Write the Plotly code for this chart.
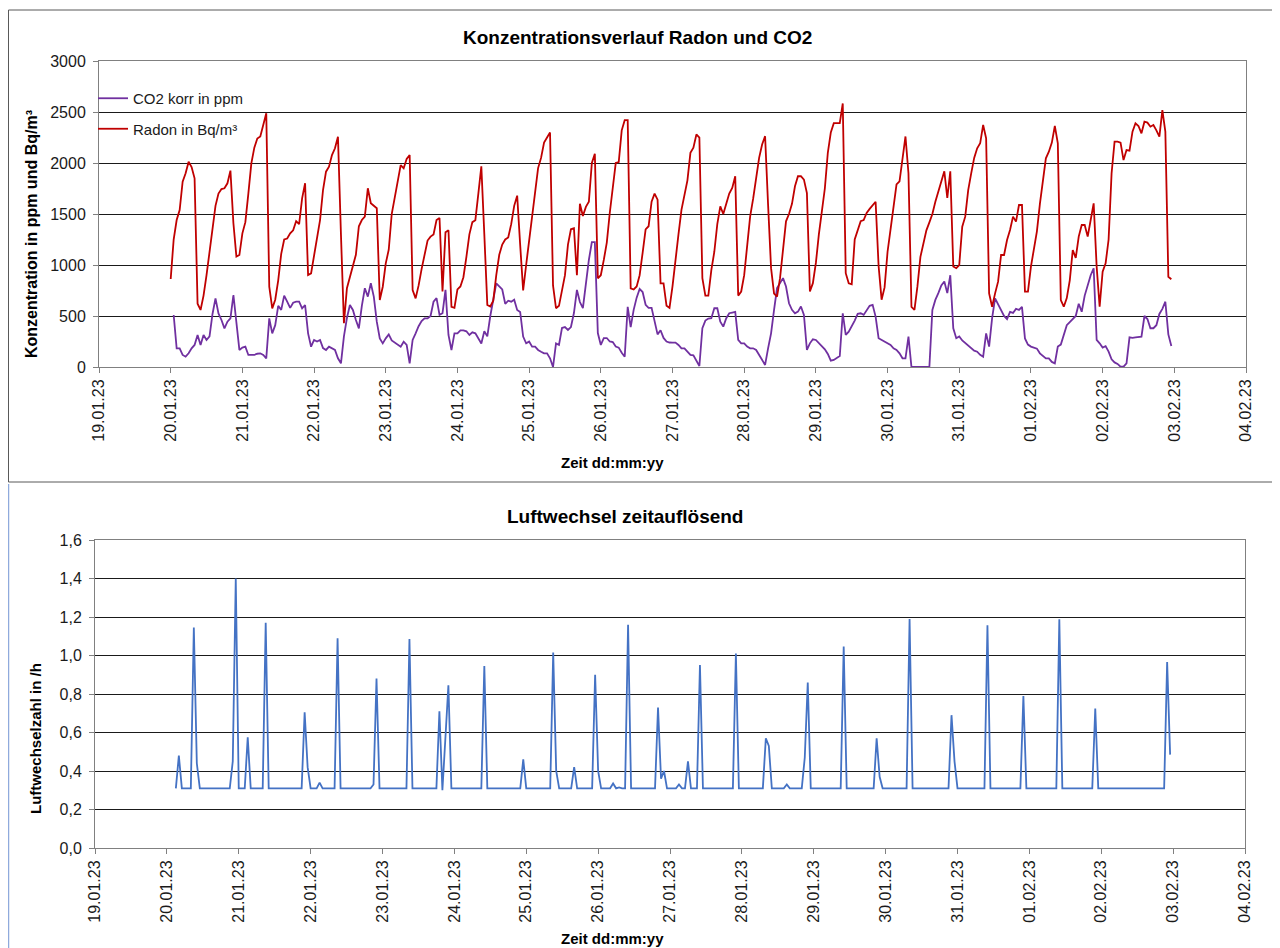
import pandas as pd
import plotly.graph_objects as go

# hourly values from 20.01.23 00:00 to 02.02.23 23:00, one row per day
radon = [
    863, 1250, 1441, 1539, 1817, 1900, 2013, 1960, 1850, 620, 559, 700, 900, 1114, 1350, 1580, 1700, 1745, 1752, 1801, 1925, 1409, 1082, 1098,
    1310, 1420, 1700, 1997, 2150, 2240, 2260, 2370, 2487, 787, 575, 660, 850, 1110, 1250, 1260, 1310, 1340, 1430, 1400, 1654, 1801, 902, 918,
    1100, 1250, 1440, 1735, 1915, 1964, 2078, 2144, 2258, 1300, 430, 772, 885, 1000, 1100, 1380, 1441, 1474, 1752, 1605, 1580, 1556, 657, 787,
    1016, 1150, 1500, 1660, 1780, 1980, 1948, 2040, 2078, 755, 673, 800, 960, 1120, 1240, 1278, 1300, 1440, 1460, 740, 1320, 1340, 590, 580,
    760, 790, 880, 1080, 1300, 1420, 1440, 1700, 1968, 1300, 609, 593, 650, 900, 1100, 1200, 1250, 1270, 1400, 1580, 1680, 1200, 750, 1000,
    1250, 1510, 1705, 1950, 2050, 2200, 2250, 2300, 800, 576, 600, 740, 900, 1200, 1350, 1360, 900, 1600, 1480, 1570, 1620, 2000, 2090, 870,
    900, 1050, 1220, 1510, 1770, 2000, 2010, 2320, 2420, 2420, 770, 760, 790, 900, 1120, 1350, 1380, 1620, 1700, 1640, 820, 820, 600, 580,
    790, 1080, 1300, 1540, 1680, 1830, 2100, 2150, 2280, 2250, 870, 700, 700, 950, 1130, 1400, 1575, 1500, 1600, 1700, 1755, 1870, 700, 740,
    900, 1215, 1477, 1650, 1850, 2050, 2181, 2263, 1592, 969, 720, 691, 871, 1133, 1428, 1500, 1600, 1772, 1870, 1870, 1837, 1706, 740, 822,
    1020, 1300, 1530, 1750, 2100, 2300, 2390, 2390, 2390, 2584, 920, 820, 810, 1250, 1350, 1430, 1440, 1510, 1550, 1590, 1620, 990, 660, 780,
    1130, 1350, 1560, 1790, 1820, 2050, 2260, 1900, 590, 560, 790, 1080, 1215, 1340, 1418, 1500, 1620, 1720, 1800, 1919, 1657, 1919, 986, 969,
    1000, 1376, 1474, 1735, 1898, 2050, 2144, 2193, 2373, 2242, 722, 591, 722, 837, 1098, 1098, 1245, 1343, 1474, 1425, 1588, 1588, 739, 739,
    984, 1180, 1330, 1600, 1850, 2046, 2111, 2200, 2363, 2193, 657, 591, 676, 850, 1147, 1069, 1278, 1392, 1392, 1278, 1441, 1605, 984, 591,
    935, 1016, 1250, 1900, 2209, 2209, 2199, 2029, 2127, 2121, 2307, 2389, 2363, 2291, 2405, 2396, 2356, 2372, 2320, 2258, 2519, 2307, 885, 860,
]

co2 = [
    None, 510, 183, 183, 118, 101, 134, 183, 216, 314, 216, 314, 265, 300, 520, 673, 526, 461, 379, 444, 477, 706, 461, 167,
    190, 200, 118, 118, 118, 130, 134, 118, 85, 477, 330, 410, 600, 560, 700, 640, 580, 630, 640, 640, 575, 608, 330, 199,
    265, 250, 265, 185, 167, 199, 185, 167, 85, 36, 300, 480, 608, 559, 461, 379, 600, 772, 690, 821, 690, 444, 281, 232,
    281, 320, 260, 240, 216, 199, 248, 216, 36, 265, 330, 400, 450, 477, 477, 500, 640, 675, 511, 527, 756, 314, 167, 330,
    330, 360, 360, 350, 314, 340, 330, 280, 230, 350, 300, 500, 650, 820, 790, 760, 620, 650, 640, 660, 560, 540, 298, 232,
    249, 200, 200, 167, 150, 134, 134, 85, 0, 232, 216, 382, 392, 363, 392, 529, 755, 637, 578, 824, 1049, 1225, 1225, 333,
    216, 284, 284, 250, 245, 200, 190, 140, 100, 590, 390, 560, 680, 765, 735, 610, 580, 580, 460, 320, 360, 285, 250, 240,
    239, 239, 216, 183, 183, 150, 118, 115, 69, 10, 380, 455, 475, 478, 576, 576, 445, 396, 478, 527, 534, 540, 265, 232,
    232, 200, 183, 183, 167, 118, 75, 20, 183, 330, 560, 773, 822, 871, 789, 625, 560, 527, 543, 593, 511, 167, 232, 272,
    265, 232, 206, 174, 128, 62, 69, 90, 108, 527, 314, 347, 396, 455, 521, 527, 511, 550, 600, 609, 494, 282, 265, 246,
    232, 216, 183, 167, 134, 85, 85, 298, 0, 0, 0, 0, 0, 0, 0, 560, 658, 724, 800, 838, 724, 900, 380, 282,
    300, 260, 235, 210, 185, 160, 150, 120, 101, 330, 200, 480, 673, 620, 560, 500, 470, 540, 530, 570, 560, 590, 280, 220,
    200, 190, 180, 134, 105, 85, 85, 50, 36, 200, 220, 320, 410, 440, 470, 500, 620, 542, 700, 800, 900, 968, 265, 232,
    190, 205, 150, 75, 45, 30, 3, 3, 36, 290, 285, 290, 297, 297, 500, 470, 380, 380, 410, 520, 570, 640, 320, 205,
]

luftwechsel = [
    None, None, None, 0.31, 0.48, 0.31, 0.31, 0.31, 0.31, 1.145, 0.44, 0.31, 0.31, 0.31, 0.31, 0.31, 0.31, 0.31, 0.31, 0.31, 0.31, 0.31, 0.45, 1.40,
    0.31, 0.31, 0.31, 0.575, 0.31, 0.31, 0.31, 0.31, 0.31, 1.17, 0.31, 0.31, 0.31, 0.31, 0.31, 0.31, 0.31, 0.31, 0.31, 0.31, 0.31, 0.31, 0.705, 0.42,
    0.31, 0.31, 0.31, 0.34, 0.31, 0.31, 0.31, 0.31, 0.31, 1.09, 0.31, 0.31, 0.31, 0.31, 0.31, 0.31, 0.31, 0.31, 0.31, 0.31, 0.31, 0.33, 0.88, 0.31,
    0.31, 0.31, 0.31, 0.31, 0.31, 0.31, 0.31, 0.31, 0.31, 1.085, 0.31, 0.31, 0.31, 0.31, 0.31, 0.31, 0.31, 0.31, 0.31, 0.71, 0.30, 0.57, 0.845, 0.31,
    0.31, 0.31, 0.31, 0.31, 0.31, 0.31, 0.31, 0.31, 0.31, 0.31, 0.945, 0.31, 0.31, 0.31, 0.31, 0.31, 0.31, 0.31, 0.31, 0.31, 0.31, 0.31, 0.31, 0.46,
    0.31, 0.31, 0.31, 0.31, 0.31, 0.31, 0.31, 0.31, 0.31, 1.015, 0.40, 0.31, 0.31, 0.31, 0.31, 0.31, 0.42, 0.31, 0.31, 0.31, 0.31, 0.31, 0.31, 0.90,
    0.40, 0.31, 0.31, 0.31, 0.31, 0.335, 0.31, 0.315, 0.31, 0.31, 1.16, 0.31, 0.31, 0.31, 0.31, 0.31, 0.31, 0.31, 0.31, 0.31, 0.73, 0.36, 0.40, 0.31,
    0.31, 0.31, 0.31, 0.33, 0.31, 0.31, 0.45, 0.31, 0.31, 0.31, 0.95, 0.31, 0.31, 0.31, 0.31, 0.31, 0.31, 0.31, 0.31, 0.31, 0.31, 0.31, 1.01, 0.31,
    0.31, 0.31, 0.31, 0.31, 0.31, 0.31, 0.31, 0.31, 0.57, 0.53, 0.31, 0.31, 0.31, 0.31, 0.31, 0.33, 0.31, 0.31, 0.31, 0.31, 0.31, 0.47, 0.86, 0.31,
    0.31, 0.31, 0.31, 0.31, 0.31, 0.31, 0.31, 0.31, 0.31, 0.31, 1.046, 0.31, 0.31, 0.31, 0.31, 0.31, 0.31, 0.31, 0.31, 0.31, 0.31, 0.57, 0.37, 0.31,
    0.31, 0.31, 0.31, 0.31, 0.31, 0.31, 0.31, 0.31, 1.19, 0.31, 0.31, 0.31, 0.31, 0.31, 0.31, 0.31, 0.31, 0.31, 0.31, 0.31, 0.31, 0.31, 0.69, 0.45,
    0.31, 0.31, 0.31, 0.31, 0.31, 0.31, 0.31, 0.31, 0.31, 0.31, 1.157, 0.31, 0.31, 0.31, 0.31, 0.31, 0.31, 0.31, 0.31, 0.31, 0.31, 0.31, 0.79, 0.31,
    0.31, 0.31, 0.31, 0.31, 0.31, 0.31, 0.31, 0.31, 0.31, 0.31, 1.188, 0.31, 0.31, 0.31, 0.31, 0.31, 0.31, 0.31, 0.31, 0.31, 0.31, 0.31, 0.724, 0.31,
    0.31, 0.31, 0.31, 0.31, 0.31, 0.31, 0.31, 0.31, 0.31, 0.31, 0.31, 0.31, 0.31, 0.31, 0.31, 0.31, 0.31, 0.31, 0.31, 0.31, 0.31, 0.31, 0.966, 0.485,
]

zeit = pd.date_range("2023-01-20 00:00", periods=len(radon), freq="h")

W, H = 1280, 948
OFF = 8  # page body margin: the figure starts 8 px in from the window corner
FONT = "Liberation Sans, Arial, sans-serif"


def px(x):
    return (x - OFF) / W


def py(y):
    return 1 - (y - OFF) / H


fig = go.Figure()
fig.add_trace(go.Scatter(x=zeit, y=co2, name="CO2 korr in ppm", mode="lines",
                         line=dict(color="#7030a0", width=1.8), legendgroup="a"))
fig.add_trace(go.Scatter(x=zeit, y=radon, name="Radon in Bq/m³", mode="lines",
                         line=dict(color="#c00000", width=1.8), legendgroup="b"))
fig.add_trace(go.Scatter(x=zeit, y=luftwechsel, mode="lines", showlegend=False,
                         line=dict(color="#4472c4", width=1.8), xaxis="x2", yaxis="y2"))

xcommon = dict(type="date", range=["2023-01-19", "2023-02-04"], dtick=86400000,
               tickformat="%d.%m.%y", tickangle=-90, ticks="outside", ticklen=5,
               tickcolor="#808080", showgrid=False, showline=True, linecolor="#808080",
               mirror=True, zeroline=False, automargin=False,
               tickfont=dict(size=16, color="#1a1a1a"))
ycommon = dict(ticks="outside", ticklen=5, tickcolor="#808080", showline=True,
               linecolor="#808080", mirror=True, gridcolor="#1a1a1a", gridwidth=1,
               zeroline=False, automargin=False, tickfont=dict(size=16, color="#1a1a1a"),
               ticklabelstandoff=4)

fig.update_layout(
    width=W, height=H, margin=dict(l=0, r=0, t=0, b=0, autoexpand=False),
    paper_bgcolor="white", plot_bgcolor="white",
    font=dict(family=FONT, color="#000000"),
    separators=",.",
    xaxis=dict(domain=[px(99), px(1246)], anchor="y", **xcommon),
    yaxis=dict(domain=[py(367), py(61)], anchor="x", range=[0, 3000], dtick=500,
               tickformat="d", **ycommon),
    xaxis2=dict(domain=[px(95), px(1245)], anchor="y2", **xcommon),
    yaxis2=dict(domain=[py(848), py(540)], anchor="x2", range=[0, 1.6], dtick=0.2,
                tickformat=".1f", **ycommon),
    legend=dict(x=px(93), y=py(82), xanchor="left", yanchor="top", tracegroupgap=8,
                bgcolor="rgba(0,0,0,0)", font=dict(size=15, color="#1a1a1a")),
    showlegend=True,
)


def label(text, x, y, size, angle=0):
    fig.add_annotation(text=text, x=px(x), y=py(y), xref="paper", yref="paper",
                       xanchor="center", yanchor="middle", showarrow=False,
                       textangle=angle, font=dict(size=size, color="#000000"))


label("<b>Konzentrationsverlauf Radon und CO2</b>", 637, 37, 19)
label("<b>Zeit dd:mm:yy</b>", 612, 463, 15)
label("<b>Konzentration in ppm und Bq/m³</b>", 32, 234, 16, -90)
label("<b>Luftwechsel zeitauflösend</b>", 625, 516, 19)
label("<b>Zeit dd:mm:yy</b>", 612, 938, 15)
label("<b>Luftwechselzahl in /h</b>", 35, 739, 15, -90)

# chart frames
fig.add_shape(type="rect", xref="paper", yref="paper", x0=px(8.5), x1=px(1300),
              y0=py(482), y1=py(10), line=dict(color="#595959", width=1))
fig.add_shape(type="line", xref="paper", yref="paper", x0=px(8.5), x1=px(8.5),
              y0=py(970), y1=py(484), line=dict(color="#8faadc", width=1.5))

fig.write_html("out.html")
